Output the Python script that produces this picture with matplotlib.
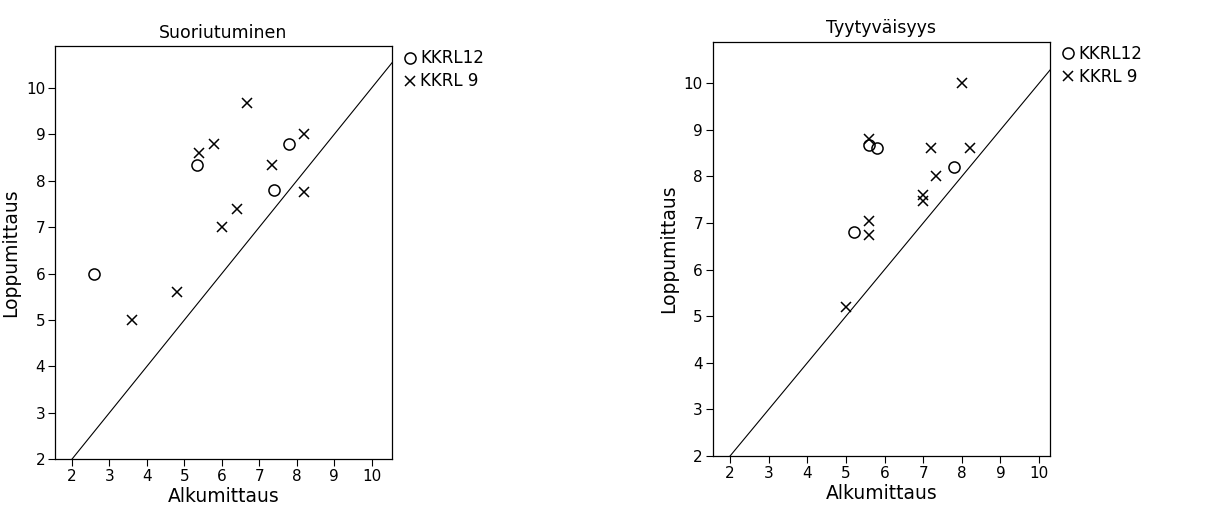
import matplotlib
matplotlib.use("Agg")
import matplotlib.pyplot as plt

plt.rcParams['font.family'] = ['DejaVu Sans']

# Suoriutuminen
suo_k12_x = [2.6, 5.33, 7.8, 7.4]
suo_k12_y = [6.0, 8.33, 8.8, 7.8]
suo_k9_x = [3.6, 4.8, 5.4, 5.8, 6.67, 6.0, 6.4, 7.33, 8.2, 8.2]
suo_k9_y = [5.0, 5.6, 8.6, 8.8, 9.67, 7.0, 7.4, 8.33, 9.0, 7.75]

# Tyytyväisyys
tyy_k12_x = [5.6, 5.8, 7.8, 5.2]
tyy_k12_y = [8.67, 8.6, 8.2, 6.8]
tyy_k9_x = [8.0, 5.6, 7.2, 8.2, 7.33, 7.0, 7.0, 5.6, 5.6, 5.0]
tyy_k9_y = [10.0, 8.8, 8.6, 8.6, 8.0, 7.6, 7.47, 7.05, 6.75, 5.2]

ticks = [2, 3, 4, 5, 6, 7, 8, 9, 10]

fig = plt.figure(figsize=(12.3, 5.14), dpi=100)
ax1 = fig.add_axes([0.0447, 0.1064, 0.274, 0.804])
ax2 = fig.add_axes([0.5794, 0.1128, 0.2745, 0.806])

panels = [
    (ax1, "Suoriutuminen", suo_k12_x, suo_k12_y, suo_k9_x, suo_k9_y, 10.54, 10.9),
    (ax2, "Tyytyväisyys", tyy_k12_x, tyy_k12_y, tyy_k9_x, tyy_k9_y, 10.29, 10.89),
]

for ax, title, cx, cy, kx, ky, xmax, ymax in panels:
    ax.axline((2, 2), slope=1, color='black', linewidth=0.8)
    ax.plot(cx, cy, linestyle='none', marker='o', markersize=8,
            markerfacecolor='none', markeredgecolor='black', markeredgewidth=1.1,
            label='KKRL12')
    ax.plot(kx, ky, linestyle='none', marker='x', markersize=7,
            color='black', markeredgewidth=1.1, label='KKRL 9')
    ax.set_xlim(1.55, xmax)
    ax.set_ylim(2, ymax)
    ax.set_xticks(ticks)
    ax.set_yticks(ticks)
    ax.tick_params(direction='out', length=5, width=0.8, labelsize=11, pad=2)
    for s in ax.spines.values():
        s.set_linewidth(0.9)
    ax.set_title(title, fontsize=12.5, pad=6)
    ax.set_xlabel("Alkumittaus", fontsize=13.5, labelpad=2)
    ax.set_ylabel("Loppumittaus", fontsize=13.5, labelpad=4)
    ax.legend(loc='upper left', bbox_to_anchor=(1.0, 1.02), frameon=False,
              fontsize=12, handlelength=0.7, handletextpad=0.3,
              labelspacing=0.3, borderaxespad=0.3)

fig.savefig("out.png", dpi=100)
